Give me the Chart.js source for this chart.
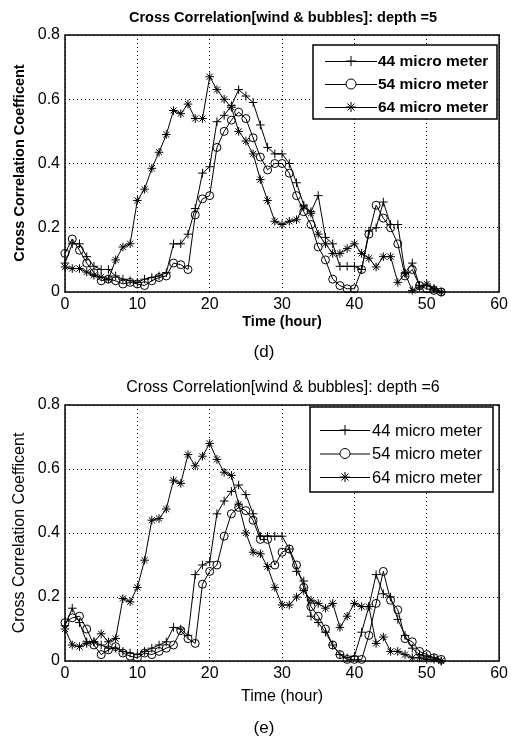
<!DOCTYPE html>
<html>
<head>
<meta charset="utf-8">
<script src="https://cdn.jsdelivr.net/npm/chart.js@4.4.0/dist/chart.umd.min.js"></script>
<style>
  html, body { margin: 0; padding: 0; background: #fff; }
  .panel { position: absolute; left: 0; width: 511px; height: 370px; }
</style>
</head>
<body>
<div class="panel" style="top:0"><canvas id="chartD" width="511" height="370"></canvas></div>
<div class="panel" style="top:370px"><canvas id="chartE" width="511" height="370"></canvas></div>
<script>
// Time axis (hour)
const hours = [];
for (let h = 0; h <= 52; h++) hours.push(h);

const seriesNames = ['44 micro meter', '54 micro meter', '64 micro meter'];
const seriesMarkers = ['cross', 'circle', 'star'];

// depth = 5
const depth5_44 = [0.09, 0.15, 0.15, 0.11, 0.08, 0.07, 0.07, 0.05, 0.04, 0.035,
    0.03, 0.04, 0.045, 0.05, 0.06, 0.15, 0.15, 0.18, 0.26, 0.37,
    0.39, 0.53, 0.55, 0.58, 0.63, 0.61, 0.59, 0.52, 0.45, 0.43,
    0.43, 0.40, 0.34, 0.27, 0.25, 0.30, 0.17, 0.15, 0.08, 0.08,
    0.08, 0.07, 0.19, 0.20, 0.28, 0.21, 0.21, 0.06, 0.09, 0.02,
    0.02, 0.01, 0];
const depth5_54 = [0.12, 0.165, 0.13, 0.09, 0.06, 0.035, 0.04, 0.035, 0.025, 0.03,
    0.025, 0.02, 0.035, 0.045, 0.05, 0.09, 0.085, 0.07, 0.24, 0.29,
    0.30, 0.45, 0.50, 0.535, 0.56, 0.54, 0.48, 0.42, 0.38, 0.40,
    0.40, 0.37, 0.30, 0.25, 0.21, 0.14, 0.10, 0.04, 0.02, 0.01,
    0.01, 0.07, 0.18, 0.27, 0.23, 0.20, 0.15, 0.05, 0.07, 0.02,
    0.01, 0.005, 0];
const depth5_64 = [0.078, 0.073, 0.073, 0.062, 0.052, 0.047, 0.04, 0.10, 0.14, 0.15,
    0.285, 0.32, 0.385, 0.435, 0.49, 0.565, 0.555, 0.585, 0.54, 0.54,
    0.67, 0.63, 0.60, 0.575, 0.50, 0.47, 0.43, 0.35, 0.285, 0.22,
    0.21, 0.22, 0.225, 0.265, 0.245, 0.18, 0.15, 0.12, 0.12, 0.135,
    0.15, 0.12, 0.105, 0.078, 0.11, 0.11, 0.03, 0.057, 0.005, 0.015,
    0.025, 0.01, 0];

// depth = 6
const depth6_44 = [0.11, 0.165, 0.12, 0.06, 0.06, 0.05, 0.04, 0.04, 0.03, 0.025,
    0.02, 0.03, 0.04, 0.05, 0.06, 0.105, 0.10, 0.08, 0.27, 0.30,
    0.31, 0.46, 0.50, 0.53, 0.55, 0.52, 0.46, 0.39, 0.39, 0.39,
    0.39, 0.35, 0.28, 0.25, 0.14, 0.12, 0.09, 0.05, 0.02, 0.01,
    0.015, 0.09, 0.17, 0.27, 0.21, 0.20, 0.13, 0.08, 0.04, 0.02,
    0.015, 0.01, 0];
const depth6_54 = [0.12, 0.135, 0.14, 0.10, 0.05, 0.02, 0.035, 0.045, 0.025, 0.015,
    0.01, 0.025, 0.02, 0.03, 0.04, 0.05, 0.095, 0.07, 0.055, 0.24,
    0.28, 0.30, 0.39, 0.46, 0.48, 0.47, 0.44, 0.38, 0.38, 0.30,
    0.34, 0.35, 0.30, 0.23, 0.17, 0.14, 0.10, 0.05, 0.02, 0.005,
    0.005, 0.005, 0.08, 0.18, 0.28, 0.19, 0.16, 0.07, 0.06, 0.03,
    0.02, 0.01, 0.005];
const depth6_64 = [0.10, 0.05, 0.045, 0.055, 0.06, 0.085, 0.06, 0.07, 0.195, 0.185,
    0.23, 0.315, 0.44, 0.445, 0.475, 0.565, 0.555, 0.645, 0.61, 0.64,
    0.68, 0.63, 0.59, 0.58, 0.49, 0.40, 0.34, 0.335, 0.295, 0.23,
    0.175, 0.175, 0.20, 0.22, 0.19, 0.18, 0.165, 0.18, 0.105, 0.14,
    0.18, 0.17, 0.17, 0.055, 0.075, 0.03, 0.03, 0.02, 0.01, 0.01,
    0.005, 0.005, 0];

const FONT = '"Liberation Sans", Arial, sans-serif';

function toPoints(values) {
    return values.map((v, i) => ({ x: hours[i], y: v }));
}

// Frame, title, axis labels, caption and the in-plot legend
const decorPlugin = {
    id: 'decor',
    afterDraw(chart, args, opts) {
        const ctx = chart.ctx;
        const a = chart.chartArea;
        ctx.save();

        // box around plot
        ctx.strokeStyle = '#000';
        ctx.lineWidth = 1.5;
        ctx.strokeRect(a.left, a.top, a.right - a.left, a.bottom - a.top);

        const w = opts.bold ? 'bold ' : '';
        ctx.fillStyle = '#000';
        ctx.textAlign = 'center';
        ctx.textBaseline = 'middle';

        ctx.font = w + opts.titleSize + 'px ' + FONT;
        ctx.fillText(opts.title, 283, 18);
        ctx.font = w + opts.labelSize + 'px ' + FONT;
        ctx.fillText('Time (hour)', 282, a.bottom + opts.xLabelOff);

        ctx.save();
        ctx.translate(20, 163);
        ctx.rotate(-Math.PI / 2);
        ctx.fillText('Cross Correlation Coefficent', 0, 0);
        ctx.restore();

        ctx.font = '17px ' + FONT;
        ctx.fillText(opts.caption, 264, a.bottom + opts.captionOff);

        // legend
        const L = opts.legend;
        const [lx, ly, lw, lh] = L.box;
        ctx.fillStyle = '#fff';
        ctx.fillRect(lx, ly, lw, lh);
        ctx.lineWidth = 1.5;
        ctx.strokeRect(lx, ly, lw, lh);
        ctx.lineWidth = 1;
        ctx.font = w + opts.legendSize + 'px ' + FONT;
        ctx.textAlign = 'left';
        seriesNames.forEach((name, i) => {
            const y = ly + L.row0 + i * L.gap;
            ctx.strokeStyle = '#000';
            ctx.beginPath();
            ctx.moveTo(L.x0, y + 0.5);
            ctx.lineTo(L.x1, y + 0.5);
            ctx.stroke();
            ctx.fillStyle = i === 2 ? '#000' : '#fff';
            Chart.helpers.drawPoint(ctx, {
                pointStyle: seriesMarkers[i], radius: 5, borderWidth: 1
            }, (L.x0 + L.x1) / 2, y);
            ctx.fillStyle = '#000';
            ctx.fillText(name, L.tx, y + 1);
        });
        ctx.restore();
    }
};

function makeChart(id, data44, data54, data64, opts) {
    const sets = [data44, data54, data64].map((vals, i) => ({
        label: seriesNames[i],
        data: toPoints(vals),
        borderColor: '#000',
        borderWidth: 1,
        backgroundColor: 'rgba(0,0,0,0)',
        pointStyle: seriesMarkers[i],
        pointRadius: i === 1 ? 4 : 4.3,
        pointBorderColor: '#000',
        pointBackgroundColor: 'rgba(0,0,0,0)',
        pointBorderWidth: 1,
        tension: 0,
        clip: 6
    }));

    return new Chart(document.getElementById(id), {
        type: 'line',
        data: { datasets: sets },
        options: {
            responsive: false,
            animation: false,
            layout: { padding: { top: 35, right: 9, left: 0, bottom: opts.bottomPad } },
            plugins: {
                legend: { display: false },
                tooltip: { enabled: false },
                decor: opts
            },
            scales: {
                x: {
                    type: 'linear',
                    min: 0,
                    max: 60,
                    ticks: { stepSize: 10, color: '#000', font: { size: 16, family: FONT }, padding: 3 },
                    grid: { color: '#000', lineWidth: 1, drawTicks: false },
                    border: { display: false, dash: [1, 3] },
                    afterFit(axis) { axis.height = 30; }
                },
                y: {
                    min: 0,
                    max: 0.8,
                    ticks: { stepSize: 0.2, color: '#000', font: { size: 16, family: FONT }, padding: 5 },
                    grid: { color: '#000', lineWidth: 1, drawTicks: false },
                    border: { display: false, dash: [1, 3] },
                    afterFit(axis) { axis.width = 65; }
                }
            }
        },
        plugins: [decorPlugin]
    });
}

makeChart('chartD', depth5_44, depth5_54, depth5_64, {
    title: 'Cross Correlation[wind & bubbles]: depth =5',
    caption: '(d)',
    bold: true,
    titleSize: 14.5,
    labelSize: 14.5,
    legendSize: 15.5,
    xLabelOff: 30,
    captionOff: 60,
    bottomPad: 48,
    legend: { box: [313, 45, 184, 74], row0: 16, gap: 23, x0: 325, x1: 377, tx: 378 }
});

makeChart('chartE', depth6_44, depth6_54, depth6_64, {
    title: 'Cross Correlation[wind & bubbles]: depth =6',
    caption: '(e)',
    bold: false,
    titleSize: 16,
    labelSize: 16,
    legendSize: 16.5,
    xLabelOff: 36,
    captionOff: 67,
    bottomPad: 49,
    legend: { box: [310, 37, 183, 85], row0: 23, gap: 23.5, x0: 320, x1: 370, tx: 372 }
});
</script>
</body>
</html>
